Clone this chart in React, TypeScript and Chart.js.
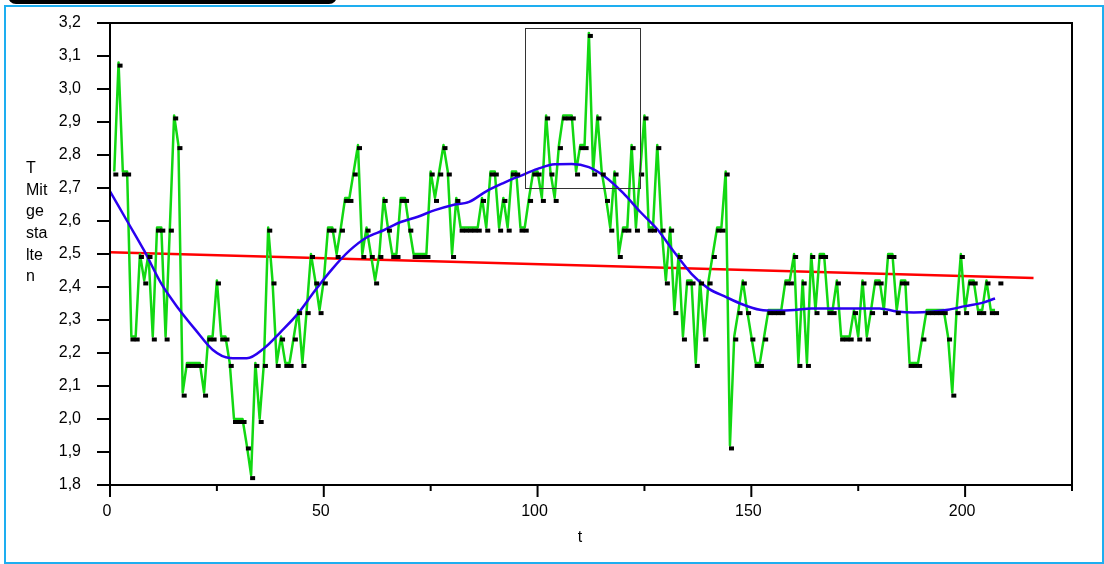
import React, { useEffect, useRef } from 'react';
import { Chart, registerables } from 'chart.js';

Chart.register(...registerables);

// Observed series (t = 1..208)
const seriesValues: number[] = [
  2.75, 3.08, 2.75, 2.75, 2.25, 2.25, 2.50, 2.42, 2.50, 2.25,
  2.58, 2.58, 2.25, 2.58, 2.92, 2.83, 2.08, 2.17, 2.17, 2.17,
  2.17, 2.08, 2.25, 2.25, 2.42, 2.25, 2.25, 2.17, 2.00, 2.00,
  2.00, 1.92, 1.83, 2.17, 2.00, 2.17, 2.58, 2.42, 2.17, 2.25,
  2.17, 2.17, 2.25, 2.33, 2.17, 2.33, 2.50, 2.42, 2.33, 2.42,
  2.58, 2.58, 2.50, 2.58, 2.67, 2.67, 2.75, 2.83, 2.50, 2.58,
  2.50, 2.42, 2.50, 2.67, 2.58, 2.50, 2.50, 2.67, 2.67, 2.58,
  2.50, 2.50, 2.50, 2.50, 2.75, 2.67, 2.75, 2.83, 2.75, 2.50,
  2.67, 2.58, 2.58, 2.58, 2.58, 2.58, 2.67, 2.58, 2.75, 2.75,
  2.58, 2.67, 2.58, 2.75, 2.75, 2.58, 2.58, 2.67, 2.75, 2.75,
  2.67, 2.92, 2.75, 2.67, 2.83, 2.92, 2.92, 2.92, 2.75, 2.83,
  2.83, 3.17, 2.75, 2.92, 2.75, 2.67, 2.58, 2.75, 2.50, 2.58,
  2.58, 2.83, 2.58, 2.75, 2.92, 2.58, 2.58, 2.83, 2.58, 2.42,
  2.58, 2.33, 2.50, 2.25, 2.42, 2.42, 2.17, 2.42, 2.25, 2.42,
  2.50, 2.58, 2.58, 2.75, 1.92, 2.25, 2.33, 2.42, 2.33, 2.25,
  2.17, 2.17, 2.25, 2.33, 2.33, 2.33, 2.33, 2.42, 2.42, 2.50,
  2.17, 2.42, 2.17, 2.50, 2.33, 2.50, 2.50, 2.33, 2.33, 2.42,
  2.25, 2.25, 2.25, 2.33, 2.25, 2.42, 2.25, 2.33, 2.42, 2.42,
  2.33, 2.50, 2.50, 2.33, 2.42, 2.42, 2.17, 2.17, 2.17, 2.25,
  2.33, 2.33, 2.33, 2.33, 2.33, 2.25, 2.08, 2.33, 2.50, 2.33,
  2.42, 2.42, 2.33, 2.33, 2.42, 2.33, 2.33, 2.42,
];
const seriesT: number[] = seriesValues.map((_, i) => i + 1);
const lineCount = 207; // the green line stops one step before the last marker

// Smoothed trend (blue)
const trendT: number[] = [
  0, 4, 8, 12, 16, 20, 24, 28, 32, 36, 40, 44, 48, 52, 56, 60, 64, 68, 72, 76,
  80, 84, 88, 92, 96, 100, 104, 108, 112, 116, 120, 124, 128, 132, 136, 140,
  144, 148, 152, 156, 160, 164, 168, 172, 176, 180, 184, 188, 192, 196, 200, 204, 207,
];
const trendValues: number[] = [
  2.69, 2.60, 2.51, 2.41, 2.335, 2.27, 2.21, 2.185, 2.184, 2.214, 2.265, 2.32, 2.39, 2.455, 2.51, 2.55, 2.572, 2.597, 2.613, 2.633,
  2.648, 2.658, 2.69, 2.715, 2.737, 2.758, 2.772, 2.773, 2.763, 2.732, 2.685, 2.628, 2.575, 2.505, 2.44, 2.395,
  2.37, 2.347, 2.331, 2.328, 2.33, 2.335, 2.335, 2.335, 2.335, 2.335, 2.326, 2.323, 2.325, 2.331, 2.342, 2.352, 2.365,
];

// Linear regression (red)
const regressionT: number[] = [0, 216];
const regressionValues: number[] = [2.505, 2.427];

// Highlight box (data coordinates)
const boxT: number[] = [97, 124];
const boxValues: number[] = [2.70, 3.185];

const xMin = 0;
const xMax = 225;
const xStep = 25;
const xLabelled: number[] = [0, 50, 100, 150, 200];
const yMin = 1.8;
const yMax = 3.2;
const yStep = 0.1;
const yTitleLines: string[] = ['T', 'Mit', 'ge', 'sta', 'lte', 'n'];
const xTitle = 't';

const FONT = '"Liberation Sans", Arial, sans-serif';

function makeSquare(): HTMLCanvasElement {
  const c = document.createElement('canvas');
  c.width = 14;
  c.height = 14;
  const g = c.getContext('2d')!;
  g.fillStyle = '#000000';
  g.fillRect(6, 8, 5, 4);
  return c;
}

const decorPlugin = {
  id: 'decor',
  afterDraw(chart: any) {
    const { ctx, chartArea } = chart;
    const xs = chart.scales.x;
    const ys = chart.scales.y;
    ctx.save();
    // highlight box
    ctx.strokeStyle = '#333333';
    ctx.lineWidth = 1;
    const bx0 = xs.getPixelForValue(boxT[0]);
    const bx1 = xs.getPixelForValue(boxT[1]);
    const by0 = ys.getPixelForValue(boxValues[1]);
    const by1 = ys.getPixelForValue(boxValues[0]);
    ctx.strokeRect(Math.round(bx0) + 0.5, Math.round(by0) + 0.5, Math.round(bx1 - bx0), Math.round(by1 - by0));

    // frame
    ctx.strokeStyle = '#000000';
    ctx.lineWidth = 2;
    ctx.strokeRect(chartArea.left, chartArea.top, chartArea.right - chartArea.left, chartArea.bottom - chartArea.top);

    // y ticks
    ys.ticks.forEach((t: any) => {
      const y = ys.getPixelForValue(t.value);
      ctx.beginPath();
      ctx.moveTo(chartArea.left - 13, y);
      ctx.lineTo(chartArea.left, y);
      ctx.stroke();
    });
    // x ticks
    xs.ticks.forEach((t: any) => {
      const x = xs.getPixelForValue(t.value);
      const len = xLabelled.includes(t.value) ? 12 : 6;
      ctx.beginPath();
      ctx.moveTo(x, chartArea.bottom);
      ctx.lineTo(x, chartArea.bottom + len);
      ctx.stroke();
    });

    // titles
    ctx.fillStyle = '#000000';
    ctx.font = `16px ${FONT}`;
    ctx.textAlign = 'left';
    ctx.textBaseline = 'middle';
    yTitleLines.forEach((line, i) => {
      ctx.fillText(line, 26, 168.5 + i * 21.7);
    });
    ctx.textAlign = 'center';
    ctx.fillText(xTitle, 580, 538);
    ctx.restore();
  },
};

export default function App() {
  const canvasRef = useRef<HTMLCanvasElement | null>(null);

  useEffect(() => {
    if (!canvasRef.current) return;
    const square = makeSquare();
    const chart = new Chart(canvasRef.current, {
      type: 'line',
      data: {
        datasets: [
          {
            label: 'Beobachtet',
            data: seriesValues.map((v, i) => ({ x: seriesT[i], y: v })),
            showLine: false,
            pointStyle: square as any,
            pointRadius: 7,
            pointHoverRadius: 7,
          },
          {
            label: 'Trend',
            data: trendValues.map((v, i) => ({ x: trendT[i], y: v })),
            borderColor: '#2A00F0',
            borderWidth: 2.5,
            borderJoinStyle: 'round',
            pointRadius: 0,
            cubicInterpolationMode: 'monotone',
          },
          {
            label: 'Verlauf',
            data: seriesValues.slice(0, lineCount).map((v, i) => ({ x: seriesT[i], y: v })),
            borderColor: '#12D812',
            borderWidth: 2.5,
            borderJoinStyle: 'round',
            pointRadius: 0,
            tension: 0,
          },
          {
            label: 'Regression',
            data: regressionValues.map((v, i) => ({ x: regressionT[i], y: v })),
            borderColor: '#FF0000',
            borderWidth: 2.5,
            pointRadius: 0,
          },
        ],
      },
      options: {
        animation: false,
        responsive: false,
        devicePixelRatio: 1,
        layout: { padding: { left: 0, top: 23, right: 32, bottom: 0 } },
        plugins: { legend: { display: false }, tooltip: { enabled: false } },
        scales: {
          x: {
            type: 'linear',
            min: xMin,
            max: xMax,
            grid: { display: false, drawTicks: true, tickLength: 14 },
            border: { display: false },
            ticks: {
              stepSize: xStep,
              autoSkip: false,
              maxRotation: 0,
              padding: 3,
              labelOffset: -3,
              color: '#000000',
              font: { family: FONT, size: 16 },
              callback: (v: any) => (xLabelled.includes(Number(v)) ? String(v) : ''),
            },
            afterFit: (s: any) => {
              s.height = 79;
            },
          },
          y: {
            type: 'linear',
            min: yMin,
            max: yMax,
            grid: { display: false, drawTicks: true, tickLength: 26 },
            border: { display: false },
            ticks: {
              stepSize: yStep,
              autoSkip: false,
              padding: 3,
              color: '#000000',
              font: { family: FONT, size: 16 },
              callback: (v: any) => Number(v).toFixed(1).replace('.', ','),
            },
            afterFit: (s: any) => {
              s.width = 110;
            },
          },
        },
      },
      plugins: [decorPlugin],
    });
    return () => chart.destroy();
  }, []);

  return (
    <div style={{ position: 'fixed', left: 0, top: 0, width: 1104, height: 564, background: '#ffffff', overflow: 'hidden' }}>
      <div
        style={{
          position: 'absolute',
          left: 4,
          top: 5,
          width: 1100,
          height: 559,
          boxSizing: 'border-box',
          border: '2px solid #1EAEF0',
        }}
      />
      <div
        style={{
          position: 'absolute',
          left: 8,
          top: -20,
          width: 329,
          height: 24,
          background: '#000000',
          borderRadius: 8,
        }}
      />
      <canvas ref={canvasRef} width={1104} height={564} style={{ position: 'absolute', left: 0, top: 0, width: 1104, height: 564 }} />
    </div>
  );
}
